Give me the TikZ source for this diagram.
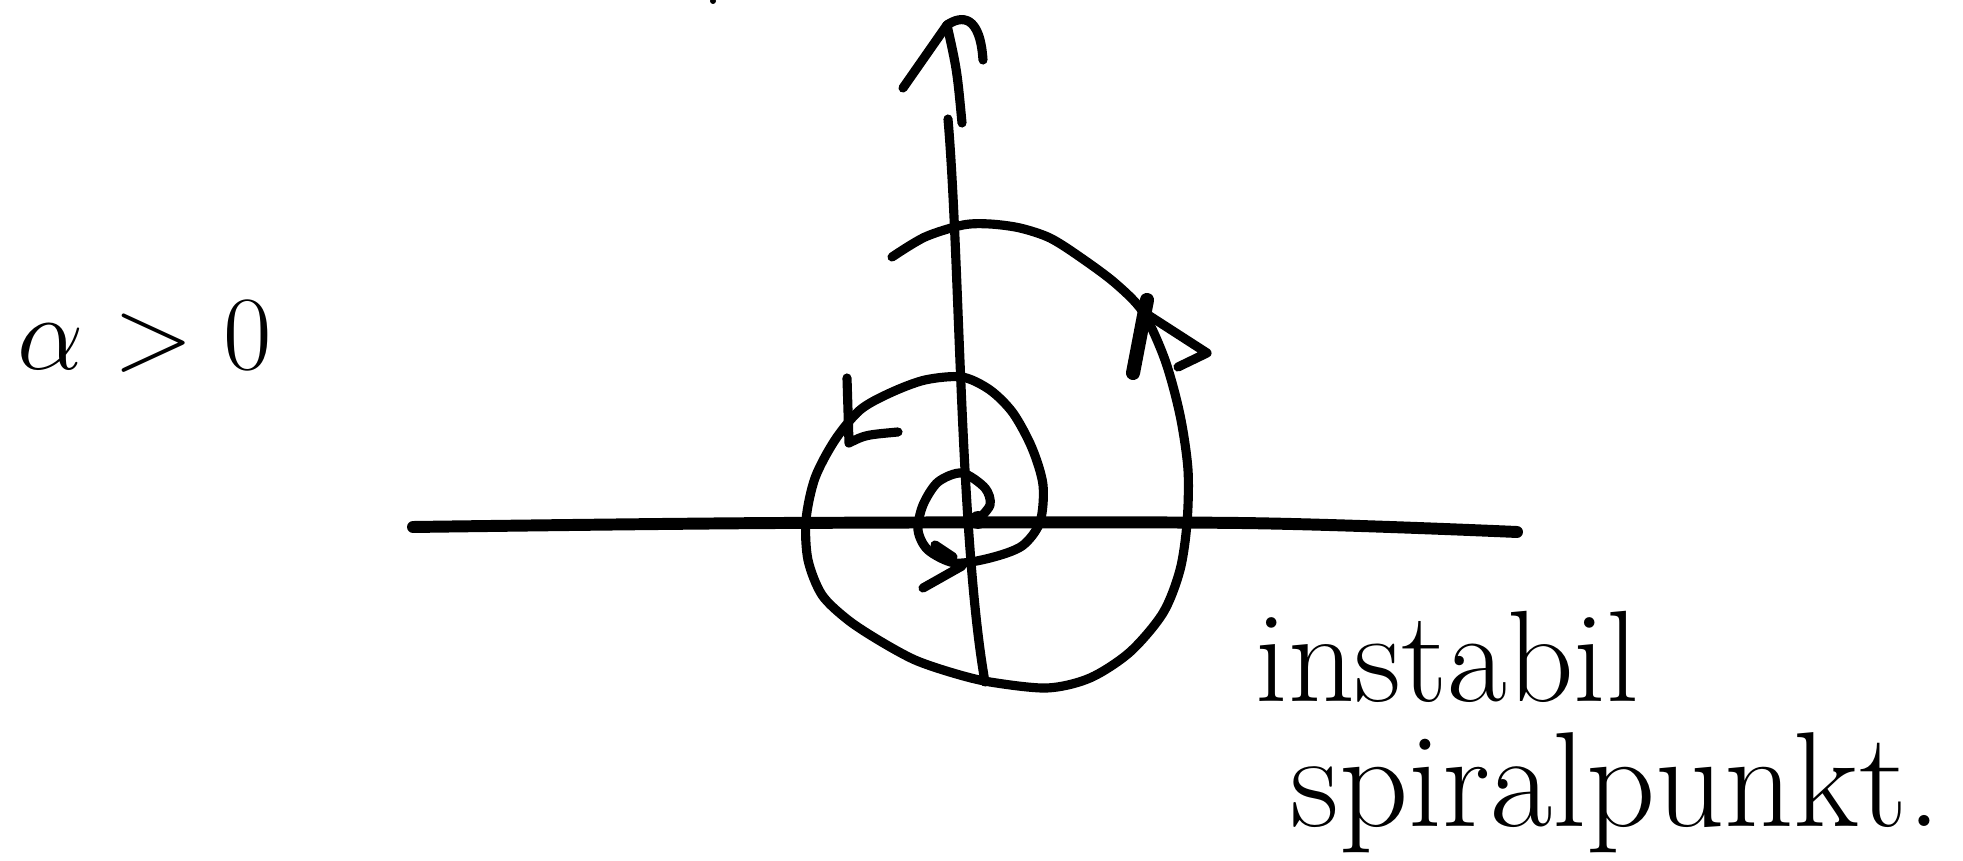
\RequirePackage{fix-cm}
\documentclass[tikz,border=0pt]{standalone}
\begin{document}
\begin{tikzpicture}[x=0.01cm,y=-0.01cm,
  ink/.style={line width=2.6pt,line cap=round,line join=round},
  thickink/.style={line width=3.4pt,line cap=round,line join=round},
  hand/.style={inner sep=0pt}]
\useasboundingbox (0,0) rectangle (1963,861);
% axes
\draw[thickink] plot[smooth] coordinates {(413,527) (780,523) (1240,523) (1517,532)};
\draw[ink] (948,119) .. controls (960,260) and (960,540) .. (985,682);
% top arrowhead
\draw[ink] (903,88) -- (947,25);
\draw[ink] (947,25) .. controls (957,70) .. (962,123);
\draw[ink] (947,25) .. controls (962,15) and (980,15) .. (983,60);
% spiral
\draw[ink] plot[smooth] coordinates {
 (976,522) (990,505) (985,488) (962,473) (938,482) (923,505) (918,530) (928,550) (955,563)
 (990,558) (1022,546) (1040,522) (1043,485) (1032,448) (1013,413) (990,390) (962,377)
 (925,380) (890,393) (860,410) (835,440) (815,478) (806,520) (808,560) (822,595)
 (848,620) (880,641) (915,660) (953,673) (990,682) (1047,688) (1090,678) (1130,652)
 (1163,613) (1180,570) (1187,523) (1188,470) (1180,415) (1165,360) (1143,312)
 (1115,283) (1080,257) (1050,238) (1020,228) (990,224) (963,225) (925,237) (892,257)};
\fill (978,520) circle (9);
% arrows on spiral
\draw[line width=4pt,line cap=round] (1133,373) -- (1147,300);
\draw[ink] (1145,313) -- (1207,353) -- (1178,367);
\draw[ink] (847,378) -- (849,443) .. controls (865,435) .. (898,432);
\draw[ink] (923,588) -- (962,566);
\draw[ink] (935,545) -- (953,557);
% stray dot
\fill (713,1) circle (3);
% labels
\node[hand,font=\fontsize{30}{34}\selectfont,anchor=base west] (alpha) at (17,370) {$\alpha>0$};
\node[hand,font=\fontsize{37}{42}\selectfont,anchor=base west] (l1) at (1255,702) {instabil};
\node[hand,font=\fontsize{38.5}{44}\selectfont,anchor=base west] (l2) at (1290,826) {spiralpunkt.};
\end{tikzpicture}
\end{document}
